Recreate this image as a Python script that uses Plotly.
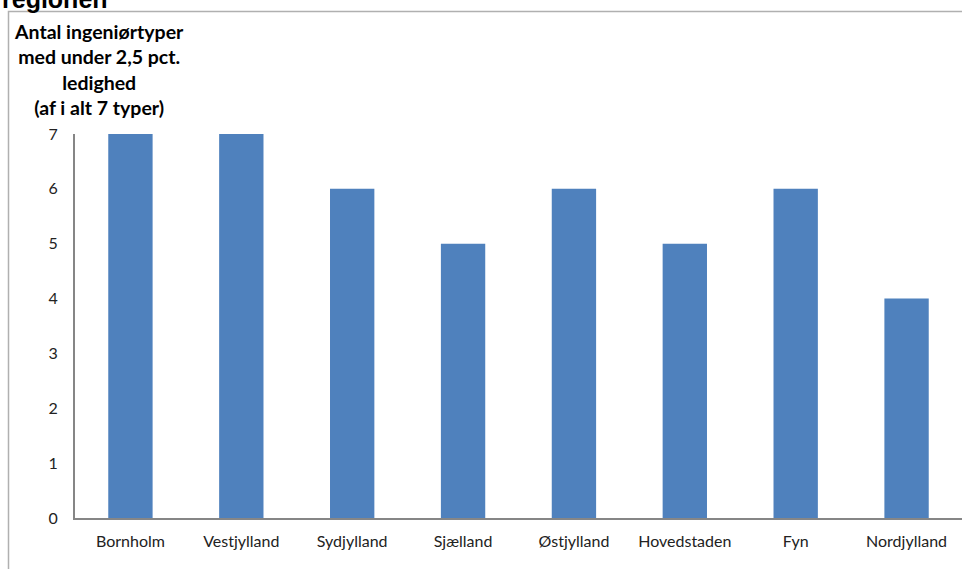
import plotly.graph_objects as go

regions = ["Bornholm", "Vestjylland", "Sydjylland", "Sjælland", "Østjylland",
           "Hovedstaden", "Fyn", "Nordjylland"]
counts = [7, 7, 6, 5, 6, 5, 6, 4]
y_ticks = [0, 1, 2, 3, 4, 5, 6, 7]

W, H = 962, 569
L, R, T, B = 75, 0, 134, 51
pw, ph = W - L - R, H - T - B

def px_x(p):
    return (p - L) / pw

def px_y(p):
    return (H - B - p) / ph

fig = go.Figure(go.Bar(
    x=regions, y=counts, width=0.4,
    marker=dict(color="#4F81BD", line=dict(width=0)),
))

fig.update_layout(
    width=W, height=H, autosize=False,
    margin=dict(l=L, r=R, t=T, b=B, pad=0),
    paper_bgcolor="white", plot_bgcolor="white",
    showlegend=False,
    font=dict(family="Lato, Carlito, sans-serif", color="#000000", size=16),
    bargap=0.6,
)
fig.update_xaxes(
    showgrid=False, zeroline=False, showline=True, linecolor="#868686", linewidth=2,
    ticks="", tickfont=dict(size=16, color="#222222"), ticklabelstandoff=8,
)
fig.update_yaxes(
    range=[0, 7], tickvals=y_ticks, showgrid=False, zeroline=False,
    showline=True, linecolor="#868686", linewidth=2, ticks="",
    tickfont=dict(size=16, color="#222222"), ticklabelstandoff=12,
)

# chart border
fig.add_shape(type="rect", xref="paper", yref="paper",
              x0=px_x(8.5), x1=px_x(975), y0=px_y(11.5), y1=px_y(600),
              line=dict(color="#b0b0b0", width=1.5), fillcolor="rgba(0,0,0,0)",
              layer="below")

# clipped title
fig.add_annotation(text="<b>regionen</b>", xref="paper", yref="paper",
                   x=px_x(0), y=px_y(15), xanchor="left", yanchor="bottom",
                   showarrow=False, font=dict(size=25, family="Liberation Sans, Arial, sans-serif"))

# y axis title
fig.add_annotation(
    text="<b>Antal ingeniørtyper<br>med under 2,5 pct.<br>ledighed<br>(af i alt 7 typer)</b>",
    xref="paper", yref="paper", x=px_x(99), y=px_y(18), xanchor="center", yanchor="top",
    align="center", showarrow=False, font=dict(size=19.5, color="#000000"),
)

fig.write_html("out.html")
